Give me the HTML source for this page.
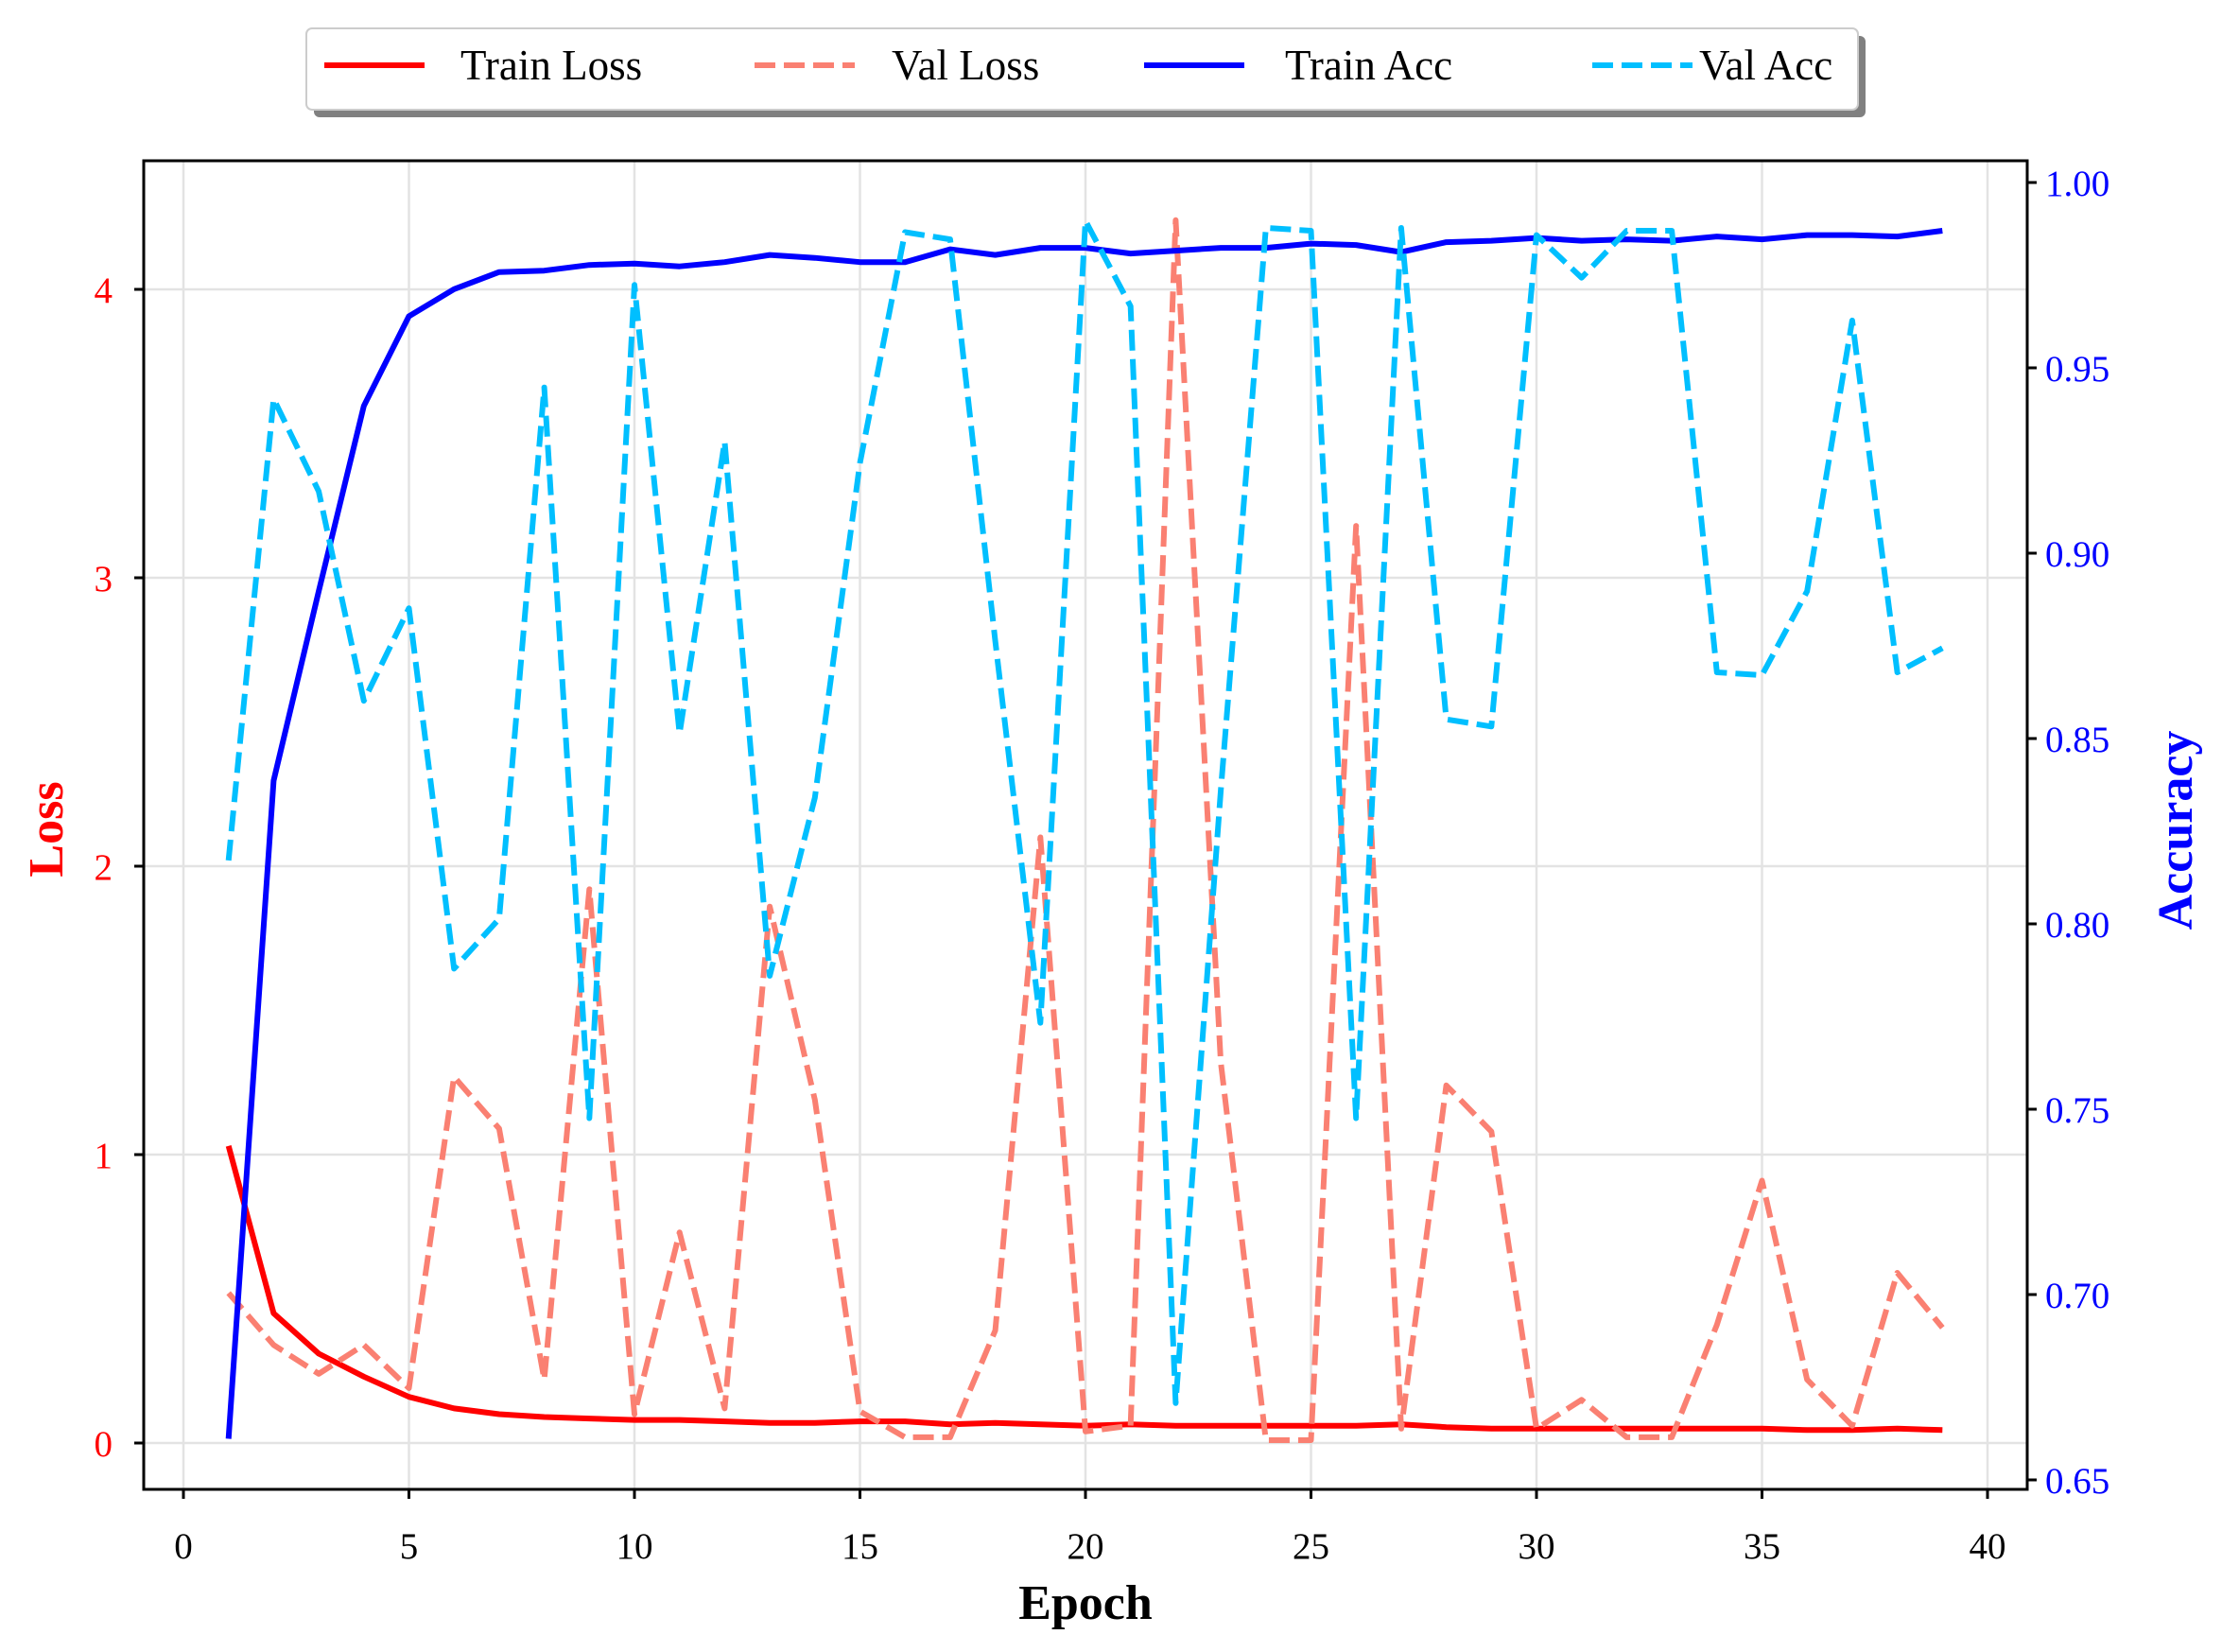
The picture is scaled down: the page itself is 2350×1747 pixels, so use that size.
<!DOCTYPE html>
<html><head><meta charset="utf-8"><style>
html,body{margin:0;padding:0;background:#fff;}
svg{display:block;font-family:"Liberation Serif",serif;}
</style></head><body>
<svg id="s" width="2350" height="1747" xmlns="http://www.w3.org/2000/svg"></svg>
<script>
const s=document.getElementById('s');
const L=152,R=2144,T=170,B=1575;
const X=e=>194+47.7*e;
const YL=v=>1526-305*v;
const YA=a=>1565-3920*(a-0.65);
let h='';
for(let e=0;e<=40;e+=5){h+=`<line x1="${X(e)}" y1="${T}" x2="${X(e)}" y2="${B}" stroke="#e3e3e3" stroke-width="2.5"/>`;}
for(let v=0;v<=4;v++){h+=`<line x1="${L}" y1="${YL(v)}" x2="${R}" y2="${YL(v)}" stroke="#e3e3e3" stroke-width="2.5"/>`;}
const tl=[1.03,0.45,0.31,0.23,0.16,0.12,0.10,0.09,0.085,0.08,0.08,0.075,0.07,0.07,0.075,0.075,0.065,0.07,0.065,0.06,0.065,0.06,0.06,0.06,0.06,0.06,0.065,0.055,0.05,0.05,0.05,0.05,0.05,0.05,0.05,0.045,0.045,0.05,0.045];
const vl=[0.52,0.34,0.24,0.34,0.19,1.27,1.09,0.22,1.92,0.10,0.73,0.12,1.86,1.19,0.11,0.02,0.02,0.39,2.10,0.04,0.06,4.24,1.32,0.01,0.01,3.18,0.05,1.24,1.08,0.05,0.15,0.02,0.02,0.41,0.91,0.22,0.06,0.59,0.40];
const ta=[1010,548,415,285,222,203,191,190,186,185,187,184,179,181,184,184,175,179,174,174,178,176,174,174,171,172,177,170,169,167,169,168,169,166,168,165,165,166,162];
const va=[604,280,345,492,427,680,645,272,785,200,515,310,685,560,325,163,168,450,718,155,215,985,555,160,162,785,160,505,510,165,195,162,162,472,474,415,225,472,455];
const pl=(arr,f,c,d)=>`<polyline fill="none" stroke="${c}" stroke-width="6" stroke-linejoin="round" ${d?'stroke-dasharray="22,9"':''} points="${arr.map((v,i)=>X(i+1).toFixed(1)+','+f(v).toFixed(1)).join(' ')}"/>`;
h+=pl(tl,YL,'#ff0000',0);
h+=pl(vl,YL,'#fa8072',1);
h+=pl(ta,y=>y*1.5064,'#0000ff',0);
h+=pl(va,y=>y*1.5064,'#00bfff',1);
h+=`<rect x="${L}" y="${T}" width="${R-L}" height="${B-T}" fill="none" stroke="#000" stroke-width="3"/>`;
for(let e=0;e<=40;e+=5){h+=`<line x1="${X(e)}" y1="${B}" x2="${X(e)}" y2="${B+10}" stroke="#000" stroke-width="3"/><text x="${X(e)}" y="1648" font-size="39" text-anchor="middle">${e}</text>`;}
for(let v=0;v<=4;v++){h+=`<line x1="${L-10}" y1="${YL(v)}" x2="${L}" y2="${YL(v)}" stroke="#000" stroke-width="3"/><text x="119" y="${YL(v)+14}" font-size="39" text-anchor="end" fill="#ff0000">${v}</text>`;}
for(let k=0;k<=7;k++){const a=0.65+k*0.05;h+=`<line x1="${R}" y1="${YA(a)}" x2="${R+10}" y2="${YA(a)}" stroke="#000" stroke-width="3"/><text x="2163" y="${YA(a)+14}" font-size="39" fill="#0000ff">${a.toFixed(2)}</text>`;}
h+=`<text x="1148" y="1712" font-size="52" font-weight="bold" text-anchor="middle">Epoch</text>`;
h+=`<text transform="translate(66,877) rotate(-90)" font-size="52" font-weight="bold" text-anchor="middle" fill="#ff0000">Loss</text>`;
h+=`<text transform="translate(2318,878) rotate(-90)" font-size="52" font-weight="bold" text-anchor="middle" fill="#0000ff">Accuracy</text>`;
h+=`<rect x="332" y="38" width="1641" height="86" rx="6" fill="#808080"/>`;
h+=`<rect x="324" y="30" width="1641" height="86" rx="6" fill="#fff" stroke="#ccc" stroke-width="2"/>`;
const lg=[[343,487,'#ff0000',0,'Train Loss'],[798,943,'#fa8072',1,'Val Loss'],[1210,1359,'#0000ff',0,'Train Acc'],[1684,1797,'#00bfff',1,'Val Acc']];
for(const [x1,tx,c,d,t] of lg){h+=`<line x1="${x1}" y1="69" x2="${x1+106}" y2="69" stroke="${c}" stroke-width="6" ${d?'stroke-dasharray="22,9"':''}/><text x="${tx}" y="84" font-size="45">${t}</text>`;}
s.innerHTML=h;
</script>
</body></html>
